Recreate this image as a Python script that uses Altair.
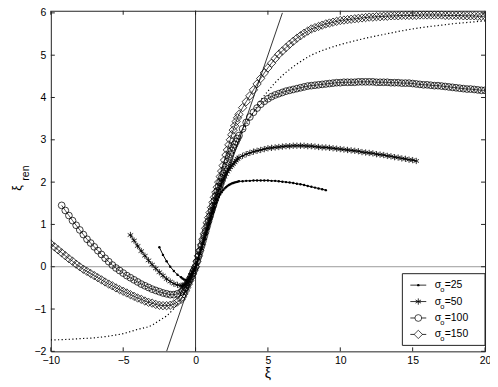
import altair as alt
import pandas as pd

# ---------------- data ----------------
# shared abscissa grid (xi)
XG = [
    -10, -9.75, -9.5, -9.25, -9, -8.75, -8.5, -8.25, -8, -7.75, -7.5, -7.25,
    -7, -6.75, -6.5, -6.25, -6, -5.75, -5.5, -5.25, -5, -4.75, -4.5, -4.25,
    -4, -3.75, -3.5, -3.25, -3, -2.75, -2.5, -2.25, -2, -1.75, -1.5, -1.25,
    -1.0, -0.9, -0.8, -0.7, -0.6, -0.5, -0.4, -0.3, -0.2, -0.1,
    0.0, 0.1, 0.2, 0.3, 0.4, 0.5, 0.6, 0.7, 0.8, 0.9,
    1.0, 1.1, 1.2, 1.3, 1.4, 1.5, 1.6, 1.7, 1.8, 1.9,
    2.0, 2.1, 2.2, 2.3, 2.4, 2.5, 2.6, 2.7, 2.8, 2.9,
    3.0,
    3.25, 3.5, 3.75, 4.0, 4.25, 4.5, 4.75, 5.0, 5.25, 5.5, 5.75, 6.0,
    6.25, 6.5, 6.75, 7.0, 7.25, 7.5, 7.75, 8.0, 8.25, 8.5, 8.75, 9.0,
    9.25, 9.5, 9.75, 10.0, 10.25, 10.5, 10.75, 11.0, 11.25, 11.5, 11.75, 12.0,
    12.25, 12.5, 12.75, 13.0, 13.25, 13.5, 13.75, 14.0, 14.25, 14.5, 14.75, 15.0,
    15.25, 15.5, 15.75, 16.0, 16.25, 16.5, 16.75, 17.0, 17.25, 17.5, 17.75, 18.0,
    18.25, 18.5, 18.75, 19.0, 19.25, 19.5, 19.75, 20.0,
]

# sigma_o = 150 (diamonds), starts at xi = -10
Y150 = [
    0.54, 0.47, 0.40, 0.33,
    0.26, 0.19, 0.13, 0.06,
    0.00, -0.06, -0.11, -0.16,
    -0.21, -0.26, -0.31, -0.36,
    -0.41, -0.45, -0.50, -0.54,
    -0.58, -0.62, -0.66, -0.70,
    -0.74, -0.77, -0.81, -0.84,
    -0.86, -0.89, -0.91, -0.92,
    -0.92, -0.91, -0.88, -0.83,
    -0.77, -0.71, -0.64, -0.57, -0.49, -0.41, -0.33, -0.25, -0.17, -0.08,
    0.00, 0.13, 0.26, 0.39, 0.52, 0.65, 0.78, 0.91, 1.04, 1.16,
    1.28, 1.40, 1.52, 1.64, 1.76, 1.88, 2.00, 2.13, 2.26, 2.39,
    2.52, 2.64, 2.76, 2.88, 3.00, 3.12, 3.23, 3.33, 3.43, 3.52,
    3.60,
    3.76, 3.90, 4.04, 4.18,
    4.32, 4.45, 4.58, 4.70,
    4.81, 4.92, 5.02, 5.10,
    5.18, 5.26, 5.33, 5.40,
    5.46, 5.52, 5.57, 5.62,
    5.65, 5.68, 5.71, 5.74,
    5.76, 5.78, 5.80, 5.82,
    5.83, 5.84, 5.85, 5.86,
    5.87, 5.88, 5.89, 5.90,
    5.90, 5.91, 5.91, 5.92,
    5.92, 5.93, 5.93, 5.93,
    5.94, 5.94, 5.94, 5.94,
    5.94, 5.95, 5.95, 5.95,
    5.95, 5.95, 5.95, 5.95,
    5.94, 5.94, 5.94, 5.94,
    5.94, 5.93, 5.93, 5.93,
    5.93, 5.92, 5.92, 5.92,
]

# sigma_o = 100 (circles), starts at xi = -9.25
Y100 = [
    1.45,
    1.33, 1.21, 1.09, 0.98,
    0.87, 0.76, 0.65, 0.56,
    0.47, 0.38, 0.29, 0.20,
    0.12, 0.04, -0.03, -0.09,
    -0.15, -0.21, -0.26, -0.31,
    -0.36, -0.41, -0.45, -0.49,
    -0.53, -0.56, -0.59, -0.62,
    -0.64, -0.66, -0.66, -0.64,
    -0.60, -0.57, -0.53, -0.49, -0.43, -0.37, -0.30, -0.23, -0.15, -0.08,
    0.00, 0.12, 0.24, 0.36, 0.48, 0.60, 0.72, 0.84, 0.96, 1.08,
    1.20, 1.32, 1.44, 1.56, 1.68, 1.79, 1.90, 2.00, 2.10, 2.20,
    2.30, 2.39, 2.48, 2.57, 2.66, 2.74, 2.82, 2.89, 2.96, 3.03,
    3.10,
    3.26, 3.41, 3.54, 3.65,
    3.75, 3.84, 3.91, 3.97,
    4.02, 4.06, 4.09, 4.12,
    4.15, 4.17, 4.19, 4.21,
    4.23, 4.25, 4.27, 4.28,
    4.29, 4.30, 4.31, 4.32,
    4.33, 4.34, 4.35, 4.35,
    4.36, 4.36, 4.36, 4.36,
    4.37, 4.37, 4.37, 4.37,
    4.37, 4.36, 4.36, 4.36,
    4.36, 4.35, 4.35, 4.35,
    4.34, 4.34, 4.34, 4.33,
    4.32, 4.31, 4.30, 4.30,
    4.29, 4.28, 4.28, 4.27,
    4.26, 4.25, 4.24, 4.23,
    4.22, 4.21, 4.20, 4.20,
    4.19, 4.18, 4.17, 4.17,
]

# sigma_o = 50 (asterisks), starts at xi = -4.5
Y50 = [
    0.75, 0.62,
    0.49, 0.37, 0.26, 0.15,
    0.05, -0.04, -0.13, -0.21,
    -0.29, -0.35, -0.40, -0.43,
    -0.45, -0.45, -0.44, -0.42, -0.38, -0.33, -0.27, -0.20, -0.13, -0.06,
    0.00, 0.10, 0.21, 0.32, 0.43, 0.55, 0.67, 0.79, 0.91, 1.03,
    1.15, 1.27, 1.38, 1.49, 1.60, 1.70, 1.80, 1.90, 1.99, 2.06,
    2.13, 2.19, 2.25, 2.30, 2.35, 2.39, 2.43, 2.47, 2.51, 2.55,
    2.58,
    2.62, 2.66, 2.69, 2.72,
    2.74, 2.76, 2.78, 2.80,
    2.81, 2.82, 2.83, 2.84,
    2.85, 2.85, 2.86, 2.86,
    2.86, 2.86, 2.85, 2.85,
    2.84, 2.83, 2.82, 2.82,
    2.81, 2.80, 2.79, 2.78,
    2.77, 2.76, 2.75, 2.74,
    2.73, 2.71, 2.70, 2.69,
    2.68, 2.66, 2.65, 2.64,
    2.62, 2.61, 2.59, 2.58,
    2.56, 2.55, 2.53, 2.52,
    2.50,
]

# sigma_o = 25 (dots), starts at xi = -2.5
Y25 = [
    0.46, 0.28,
    0.13, 0.00, -0.10, -0.19,
    -0.25, -0.28, -0.30, -0.31, -0.31, -0.29, -0.25, -0.19, -0.13, -0.06,
    0.00, 0.10, 0.21, 0.32, 0.43, 0.54, 0.65, 0.76, 0.87, 0.98,
    1.09, 1.20, 1.30, 1.40, 1.50, 1.58, 1.65, 1.71, 1.76, 1.81,
    1.85, 1.88, 1.91, 1.93, 1.95, 1.97, 1.98, 1.99, 2.00, 2.01,
    2.02,
    2.02, 2.03, 2.03, 2.04,
    2.04, 2.04, 2.04, 2.04,
    2.03, 2.03, 2.02, 2.01,
    2.00, 1.99, 1.98, 1.96,
    1.95, 1.93, 1.91, 1.89,
    1.87, 1.85, 1.83, 1.81,
]

# dotted curve (no legend entry)
DOT_X = [-10, -9, -8, -7, -6, -5, -4, -3, -2.5, -2, -1.5, -1, -0.6, -0.3, 0,
         0.5, 1, 1.5, 2, 2.5, 3, 3.5, 4, 4.5, 5, 5.5, 6, 7, 8, 9, 10, 11, 12,
         13, 14, 15, 16, 17, 18, 19, 20]
DOT_Y = [-1.73, -1.72, -1.70, -1.68, -1.64, -1.58, -1.48, -1.38, -1.27, -1.16,
         -0.99, -0.77, -0.50, -0.26, 0.0,
         0.52, 1.05, 1.58, 2.10, 2.60, 3.00, 3.35, 3.65, 3.93, 4.15, 4.35,
         4.52, 4.79, 5.00, 5.14, 5.25, 5.34, 5.42, 5.49, 5.56, 5.62, 5.67,
         5.71, 5.75, 5.78, 5.81]

# straight reference line xi_ren = xi
DIAG_X = [-2, 6]
DIAG_Y = [-2, 6]

X_TICKS = [-10, -5, 0, 5, 10, 15, 20]
Y_TICKS = [-2, -1, 0, 1, 2, 3, 4, 5, 6]
SIGMAS = ["25", "50", "100", "150"]
X_TITLE = "ξ"
Y_TITLE = "ξ"
Y_SUB = "ren"
LEG_SYMBOL = "σ"
LEG_SUB = "o"

# ---------------- helpers ----------------
FONT = "Liberation Sans"
W, H = 436, 342


def series(start, ys):
    i0 = XG.index(start)
    xs = XG[i0:i0 + len(ys)]
    return pd.DataFrame({"x": xs, "y": ys[:len(xs)]})


XS = alt.Scale(domain=[-10, 20], nice=False, zero=False)
YS = alt.Scale(domain=[-2, 6.05], nice=False, zero=False)
XAX = alt.Axis(values=X_TICKS, ticks=False, tickSize=0, domain=False, grid=False,
               title=None, labelFont=FONT, labelFontSize=10.5, labelColor="black",
               labelPadding=4, labelFlush=False, labelOverlap=False)
YAX = alt.Axis(values=Y_TICKS, ticks=False, tickSize=0, domain=False, grid=False,
               title=None, labelFont=FONT, labelFontSize=10.5, labelColor="black",
               labelPadding=5, labelFlush=False, labelOverlap=False)
XE = alt.X("x:Q", scale=XS, axis=XAX)
YE = alt.Y("y:Q", scale=YS, axis=YAX)

ASTERISK = "M0,-1L0,1M-0.87,-0.5L0.87,0.5M-0.87,0.5L0.87,-0.5"

layers = []

# zero lines
layers.append(alt.Chart(pd.DataFrame({"y": [0]})).mark_rule(color="#9a9a9a", strokeWidth=1)
              .encode(y=YE, x=alt.value(0), x2=alt.value(W)))
layers.append(alt.Chart(pd.DataFrame({"x": [0]})).mark_rule(color="#333", strokeWidth=1)
              .encode(x=XE, y=alt.value(0), y2=alt.value(H)))

# diagonal
layers.append(alt.Chart(pd.DataFrame({"x": DIAG_X, "y": DIAG_Y}))
              .mark_line(color="black", strokeWidth=0.8, clip=True).encode(x=XE, y=YE))

# dotted curve
layers.append(alt.Chart(pd.DataFrame({"x": DOT_X, "y": DOT_Y}))
              .mark_line(color="black", strokeWidth=1.2, strokeDash=[1.2, 2.4],
                         interpolate="monotone", clip=True).encode(x=XE, y=YE))

d25 = series(-2.5, Y25)
d50 = series(-4.5, Y50)
d100 = series(-9.25, Y100)
d150 = series(-10, Y150)

# sigma 25
layers.append(alt.Chart(d25).mark_line(color="black", strokeWidth=1, clip=True).encode(x=XE, y=YE))
layers.append(alt.Chart(d25).mark_point(shape="circle", filled=True, size=6, color="black",
                                        opacity=1, clip=True).encode(x=XE, y=YE))
# sigma 50
layers.append(alt.Chart(d50).mark_line(color="black", strokeWidth=1, clip=True).encode(x=XE, y=YE))
layers.append(alt.Chart(d50).mark_point(shape=ASTERISK, filled=False, size=40, color="black",
                                        strokeWidth=0.8, opacity=1, clip=True).encode(x=XE, y=YE))
# sigma 100
layers.append(alt.Chart(d100).mark_line(color="black", strokeWidth=0.7, clip=True).encode(x=XE, y=YE))
layers.append(alt.Chart(d100).mark_point(shape="circle", filled=False, size=46, color="black",
                                         strokeWidth=0.75, opacity=1, clip=True).encode(x=XE, y=YE))
# sigma 150
layers.append(alt.Chart(d150).mark_line(color="black", strokeWidth=0.7, clip=True).encode(x=XE, y=YE))
layers.append(alt.Chart(d150).mark_point(shape="diamond", filled=False, size=70, color="black",
                                         strokeWidth=0.75, opacity=1, clip=True).encode(x=XE, y=YE))

# inward ticks on all four sides
ydf = pd.DataFrame({"y": Y_TICKS})
xdf = pd.DataFrame({"x": X_TICKS})
TK = 4
layers.append(alt.Chart(ydf).mark_rule(color="#222", strokeWidth=1)
              .encode(y=YE, x=alt.value(0), x2=alt.value(TK)))
layers.append(alt.Chart(ydf).mark_rule(color="#222", strokeWidth=1)
              .encode(y=YE, x=alt.value(W - TK), x2=alt.value(W)))
layers.append(alt.Chart(xdf).mark_rule(color="#222", strokeWidth=1)
              .encode(x=XE, y=alt.value(H - TK), y2=alt.value(H)))
layers.append(alt.Chart(xdf).mark_rule(color="#222", strokeWidth=1)
              .encode(x=XE, y=alt.value(0), y2=alt.value(TK)))

# axis titles
tdf = pd.DataFrame({"t": [X_TITLE]})
layers.append(alt.Chart(tdf).mark_text(font=FONT, fontSize=14, color="black", align="center",
                                       baseline="middle")
              .encode(text="t:N", x=alt.value(218), y=alt.value(365)))
ydf_t = pd.DataFrame({"t": [Y_TITLE]})
layers.append(alt.Chart(ydf_t).mark_text(font=FONT, fontSize=12.5, color="black", align="center",
                                         baseline="middle", angle=270)
              .encode(text="t:N", x=alt.value(-34), y=alt.value(178)))
ysub = pd.DataFrame({"t": [Y_SUB]})
layers.append(alt.Chart(ysub).mark_text(font=FONT, fontSize=10.5, color="black", align="center",
                                        baseline="middle", angle=270)
              .encode(text="t:N", x=alt.value(-25), y=alt.value(163)))

# legend
layers.append(alt.Chart(pd.DataFrame({"t": ["legend"]}))
              .mark_rect(fill="white", stroke="#222", strokeWidth=1)
              .encode(x=alt.value(353), x2=alt.value(W), y=alt.value(264), y2=alt.value(336)))

leg_marks = [
    dict(shape="circle", filled=True, size=6, strokeWidth=0.7),
    dict(shape=ASTERISK, filled=False, size=40, strokeWidth=0.8),
    dict(shape="circle", filled=False, size=46, strokeWidth=0.7),
    dict(shape="diamond", filled=False, size=70, strokeWidth=0.7),
]
for k, s in enumerate(SIGMAS):
    yk = 275.5 + 16.5 * k
    ldf = pd.DataFrame({"sym": [LEG_SYMBOL], "sub": [LEG_SUB], "lab": ["=" + s]})
    base = alt.Chart(ldf)
    layers.append(base.mark_rule(color="black", strokeWidth=0.8)
                  .encode(x=alt.value(361), x2=alt.value(377), y=alt.value(yk)))
    if leg_marks[k]["filled"]:
        layers.append(base.mark_point(color="black", opacity=1, **leg_marks[k])
                      .encode(x=alt.value(369), y=alt.value(yk)))
    else:
        layers.append(base.mark_point(color="black", fill="white", opacity=1, **leg_marks[k])
                      .encode(x=alt.value(369), y=alt.value(yk)))
    layers.append(base.mark_text(font=FONT, fontSize=10.5, color="black", align="left",
                                 baseline="middle")
                  .encode(text="sym:N", x=alt.value(385.5), y=alt.value(yk)))
    layers.append(base.mark_text(font=FONT, fontSize=7.5, color="black", align="left",
                                 baseline="middle")
                  .encode(text="sub:N", x=alt.value(391), y=alt.value(yk + 5)))
    layers.append(base.mark_text(font=FONT, fontSize=10.5, color="black", align="left",
                                 baseline="middle")
                  .encode(text="lab:N", x=alt.value(395.5), y=alt.value(yk)))

chart = (
    alt.layer(*layers)
    .properties(width=W, height=H,
                padding={"left": 43, "top": 2, "right": 5, "bottom": 30},
                autosize=alt.AutoSizeParams(type="none"),
                background="white")
    .configure_view(stroke="#222", strokeWidth=1)
)

chart.save("out.html", embed_options={"renderer": "svg", "actions": False})
